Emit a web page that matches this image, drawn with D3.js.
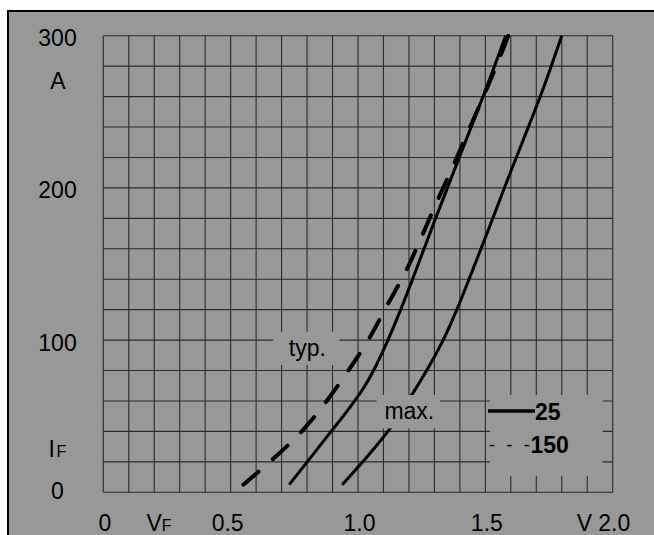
<!DOCTYPE html>
<html>
<head>
<meta charset="utf-8">
<script src="https://cdn.jsdelivr.net/npm/d3@7"></script>
<style>
    body { margin: 0; background: #ffffff; }
    svg text { font-family: "Liberation Sans", Arial, sans-serif; fill: #000000; }
</style>
</head>
<body>
<div id="chart"></div>
<script>
// forward voltage in V, forward current in A
let typ25 = [[0.73, 5], [0.81, 22], [0.89, 39], [0.96, 54], [1.02, 68], [1.07, 83], [1.12, 101],
    [1.17, 121], [1.23, 147], [1.30, 178], [1.40, 221], [1.50, 264], [1.58, 300]];
let typ150 = [[0.55, 5], [0.667, 22], [0.779, 40], [0.877, 60], [0.962, 80], [1.04, 100], [1.115, 123],
    [1.19, 146], [1.25, 168], [1.31, 191], [1.375, 215], [1.44, 240], [1.50, 263], [1.55, 283], [1.59, 300]];
let max25 = [[0.938, 5], [1.034, 23], [1.126, 42], [1.215, 65], [1.283, 84], [1.34, 102], [1.388, 120],
    [1.45, 146], [1.52, 176], [1.584, 204], [1.65, 232], [1.72, 262], [1.80, 300]];

let xTicks = ["0", "0.5", "1.0", "1.5", "2.0"];
let yTicks = ["0", "100", "200", "300"];
let legendLabels = ["25", "150"];

class ForwardChart {

    constructor() {
        this.width = 654;
        this.height = 535;
        this.bg = "#989898";
        this.fontSize = 23;

        this.svg = d3.select("#chart").append("svg")
            .attr("width", this.width)
            .attr("height", this.height);

        this.x = d3.scaleLinear().domain([0, 2.0]).range([103.3, 612.7]);
        this.y = d3.scaleLinear().domain([0, 300]).range([492.3, 35.7]);
    }

    draw() {
        let x = this.x, y = this.y;
        let fs = this.fontSize;

        //gray panel with border on top and left only
        this.svg.append("rect")
            .attr("x", 8).attr("y", 11)
            .attr("width", this.width - 8).attr("height", this.height - 11)
            .attr("fill", this.bg);
        this.svg.append("line")
            .attr("x1", 7).attr("x2", this.width).attr("y1", 11).attr("y2", 11)
            .attr("stroke", "#000").attr("stroke-width", 2);
        this.svg.append("line")
            .attr("x1", 8).attr("x2", 8).attr("y1", 10).attr("y2", this.height)
            .attr("stroke", "#000").attr("stroke-width", 2);

        //grid
        let grid = this.svg.append("g");
        grid.selectAll("line.v").data(d3.range(0, 21)).enter().append("line")
            .attr("class", "v")
            .attr("x1", d => x(d / 10)).attr("x2", d => x(d / 10))
            .attr("y1", y(0)).attr("y2", y(300))
            .attr("stroke", "#2a2a2a").attr("stroke-width", 1.1);
        grid.selectAll("line.h").data(d3.range(0, 16)).enter().append("line")
            .attr("class", "h")
            .attr("x1", x(0)).attr("x2", x(2.0))
            .attr("y1", d => y(d * 20)).attr("y2", d => y(d * 20))
            .attr("stroke", "#2a2a2a").attr("stroke-width", 1.1);

        //curves
        let line = d3.line()
            .x(d => x(d[0]))
            .y(d => y(d[1]))
            .curve(d3.curveCatmullRom.alpha(0.5));

        this.svg.append("path").datum(typ25)
            .attr("d", line)
            .attr("fill", "none").attr("stroke", "#000").attr("stroke-width", 3);
        this.svg.append("path").datum(max25)
            .attr("d", line)
            .attr("fill", "none").attr("stroke", "#000").attr("stroke-width", 3);
        this.svg.append("path").datum(typ150)
            .attr("d", line)
            .attr("fill", "none").attr("stroke", "#000").attr("stroke-width", 4)
            .attr("stroke-linecap", "round")
            .attr("stroke-dasharray", "20,19");

        //label boxes hide grid (and curve) behind them
        let boxes = [
            {x0: 0.667, x1: 0.927, y0: 83.6, y1: 105.5, text: "typ."},
            {x0: 1.073, x1: 1.322, y0: 42, y1: 63.9, text: "max."},
            {x0: 1.518, x1: 1.961, y0: 10.7, y1: 63.9, text: null}
        ];
        this.svg.selectAll("rect.box").data(boxes).enter().append("rect")
            .attr("class", "box")
            .attr("x", d => x(d.x0))
            .attr("y", d => y(d.y1))
            .attr("width", d => x(d.x1) - x(d.x0))
            .attr("height", d => y(d.y0) - y(d.y1))
            .attr("fill", this.bg);
        this.svg.selectAll("text.box").data(boxes.filter(d => d.text)).enter().append("text")
            .attr("class", "box")
            .attr("x", d => (x(d.x0) + x(d.x1)) / 2 + 1)
            .attr("y", d => (y(d.y0) + y(d.y1)) / 2 + 7.5)
            .attr("text-anchor", "middle")
            .attr("font-size", fs)
            .text(d => d.text);

        //legend
        this.svg.append("line")
            .attr("x1", 488).attr("x2", 535).attr("y1", 411).attr("y2", 411)
            .attr("stroke", "#000").attr("stroke-width", 3.5);
        this.svg.append("text")
            .attr("x", 535).attr("y", 420)
            .attr("font-size", fs).attr("font-weight", "bold")
            .text(legendLabels[0]);
        this.svg.append("text")
            .attr("x", 489).attr("y", 451)
            .attr("font-size", 18)
            .attr("letter-spacing", 3.2)
            .text("- - -");
        this.svg.append("text")
            .attr("x", 530.5).attr("y", 453.3)
            .attr("font-size", fs).attr("font-weight", "bold")
            .text(legendLabels[1]);

        //y axis labels
        this.svg.selectAll("text.ytick").data(yTicks).enter().append("text")
            .attr("class", "ytick")
            .attr("x", 57.5)
            .attr("y", d => Math.min(y(+d) + 10.5, 499.3))
            .attr("text-anchor", "middle")
            .attr("font-size", fs)
            .text(d => d);
        this.svg.append("text")
            .attr("x", 58).attr("y", 89.3)
            .attr("text-anchor", "middle")
            .attr("font-size", fs)
            .text("A");
        let iF = this.svg.append("text")
            .attr("x", 48.5).attr("y", 456.7)
            .attr("font-size", fs);
        iF.append("tspan").text("I");
        iF.append("tspan").attr("font-size", 16).attr("dx", 1.5).text("F");

        //x axis labels
        this.svg.selectAll("text.xtick").data(xTicks).enter().append("text")
            .attr("class", "xtick")
            .attr("x", (d, i) => x(+d) + (i == 1 ? -3 : 1.5))
            .attr("y", 530.7)
            .attr("text-anchor", "middle")
            .attr("font-size", fs)
            .text(d => d);
        this.svg.append("text")
            .attr("x", 592).attr("y", 530.7)
            .attr("text-anchor", "end")
            .attr("font-size", fs)
            .text("V");
        let vF = this.svg.append("text")
            .attr("x", 146.5).attr("y", 530.7)
            .attr("font-size", fs);
        vF.append("tspan").text("V");
        vF.append("tspan").attr("font-size", 16).text("F");
    }
}

let chart = new ForwardChart();
chart.draw();
</script>
</body>
</html>
